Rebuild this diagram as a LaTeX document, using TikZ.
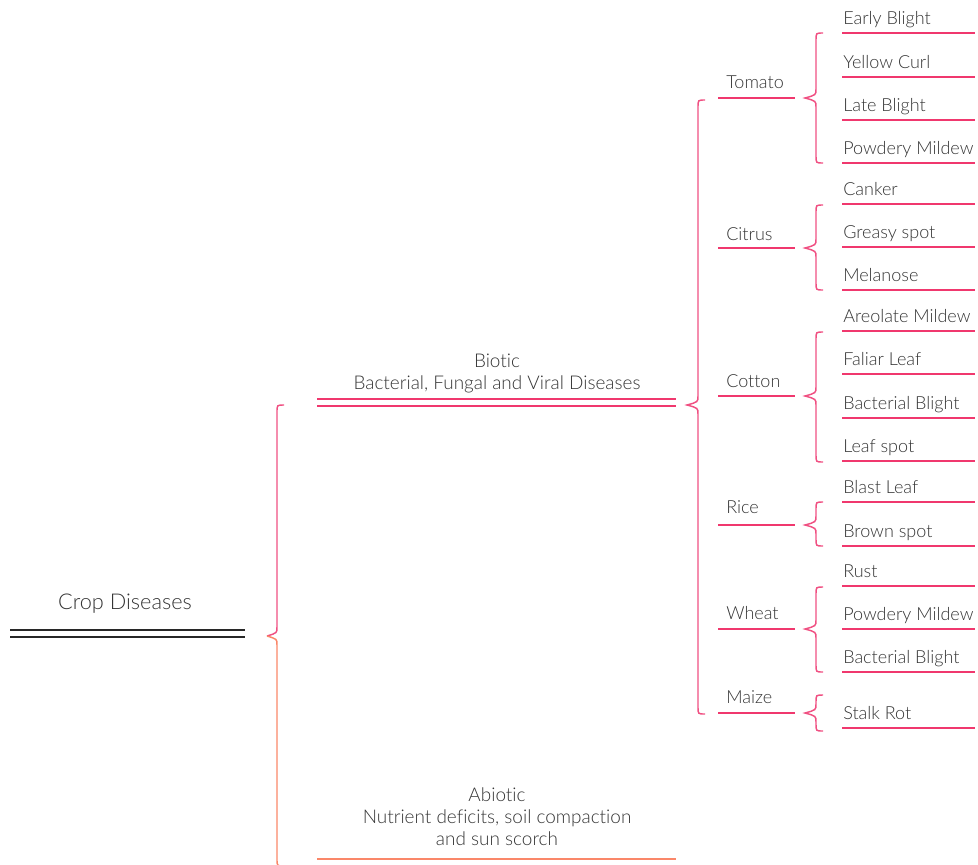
\documentclass[tikz,border=0pt]{standalone}
\usepackage{fontspec}
\setmainfont{Lato Light}[Ligatures=CommonOff]
\definecolor{txt}{RGB}{52,52,52}
\definecolor{rootline}{RGB}{40,40,40}
\definecolor{pinkl}{RGB}{240,56,110}
\definecolor{pinkb}{RGB}{240,80,130}
\definecolor{orangel}{RGB}{250,135,105}
\tikzset{
  lbl/.style={inner sep=0pt, text=txt, font=\fontsize{13.5}{16.5}\selectfont},
  disease/.style={lbl, anchor=base west},
  crop/.style={lbl, anchor=base west},
  mid/.style={lbl, anchor=base, align=center, font=\fontsize{14.2}{16.5}\selectfont},
  pline/.style={draw=pinkl, line width=1.1pt},
  oline/.style={draw=orangel, line width=1.1pt},
  kline/.style={draw=rootline, line width=1.1pt},
  bracep/.style={draw=pinkb, line width=1.1pt},
  braceo/.style={draw=orangel, line width=1.1pt},
}
\newcommand\mybrace[5]{%
  \draw[#1] (#2+7,#3) .. controls (#2,#3) .. (#2,#3+7) -- (#2,#4-9)
    .. controls (#2,#4-3) .. (#2-11,#4) .. controls (#2,#4+3) .. (#2,#4+9)
    -- (#2,#5-7) .. controls (#2,#5) .. (#2+7,#5);}
\begin{document}
\begin{tikzpicture}[x=0.75pt,y=-0.75pt]
\useasboundingbox (0,0) rectangle (978,864);
\clip (0,0) rectangle (978,864);
% root
\node[lbl, anchor=base, font=\fontsize{16.3}{19}\selectfont] (root) at (125,609) {Crop Diseases};
\coordinate (rootL) at (10,630); \coordinate (rootR) at (245,630);
\draw[kline] (rootL) -- (rootR);
\draw[kline] ([yshift=-5.25pt]rootL) -- ([yshift=-5.25pt]rootR);
% main brace (pink top, orange bottom)
\draw[bracep] (277+7,405) .. controls (277,405) .. (277,405+7) -- (277,636-9)
    .. controls (277,636-3) .. (277-10,636);
\draw[braceo] (277-10,636) .. controls (277,636+3) .. (277,636+9) -- (277,866-7)
    .. controls (277,866) .. (277+7,866);
% biotic
\node[mid] (biotic) at (497,389) {Biotic\\Bacterial, Fungal and Viral Diseases};
\coordinate (bioL) at (317,399); \coordinate (bioR) at (676,399);
\draw[pline] (bioL) -- (bioR);
\draw[pline] ([yshift=-5.25pt]bioL) -- ([yshift=-5.25pt]bioR);
% abiotic
\node[mid] (abiotic) at (497,845) {Abiotic\\Nutrient deficits, soil compaction\\and sun scorch};
\coordinate (abioL) at (317,859); \coordinate (abioR) at (676,859);
\draw[oline] (abioL) -- (abioR);
% biotic brace
\mybrace{bracep}{698}{100}{405}{714}
% crops
\foreach \t/\l/\b [count=\i] in {Tomato/98/88,Citrus/248/240,Cotton/396/387,Rice/525/513,Wheat/629/619,Maize/713/703}{
  \node[crop] (c\i) at (726,\b) {\t};
  \draw[pline] (718,\l) -- (795,\l);
}
% crop braces
\mybrace{bracep}{816}{33}{98}{163}
\mybrace{bracep}{816}{205}{248}{290}
\mybrace{bracep}{816}{332}{396}{462}
\mybrace{bracep}{816}{502}{525}{546}
\mybrace{bracep}{816}{587}{629}{672}
\mybrace{bracep}{816}{695}{713}{731}
% diseases
\foreach \t/\l [count=\i] in {Early Blight/33,Yellow Curl/77,Late Blight/120,Powdery Mildew/163,Canker/204,Greasy spot/247,Melanose/290,Areolate Mildew/331,Faliar Leaf/374,Bacterial Blight/418,Leaf spot/461,Blast Leaf/502,Brown spot/546,Rust/586,Powdery Mildew/629,Bacterial Blight/672,Stalk Rot/728}{
  \node[disease] (d\i) at (843,\l-9) {\t};
  \draw[pline] (842,\l) -- (975,\l);
}
\end{tikzpicture}
\end{document}
